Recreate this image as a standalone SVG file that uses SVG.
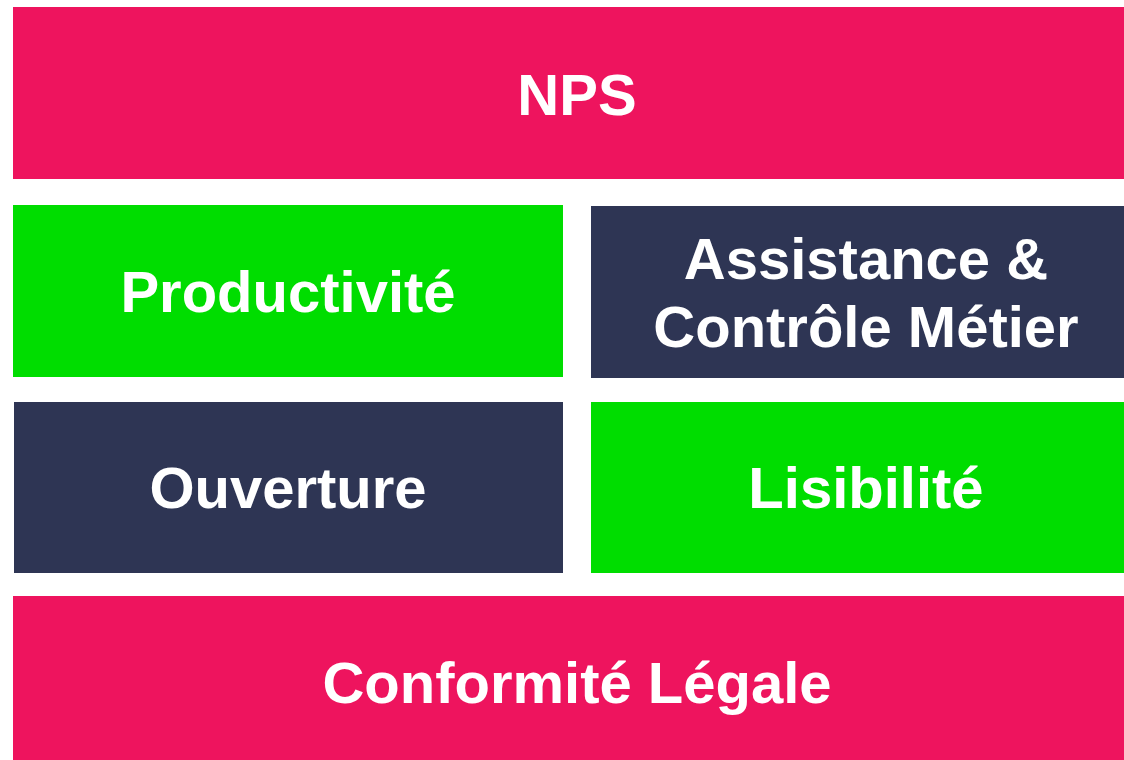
<svg xmlns="http://www.w3.org/2000/svg" width="1124" height="760" viewBox="0 0 1124 760">
<style>
.pink{fill:#EE145E}.green{fill:#00DD00}.dark{fill:#2E3554}
text{font-family:"Liberation Sans",Arial,sans-serif;font-weight:bold;fill:#fff;text-anchor:middle;font-size:58px}
</style>
<rect width="1124" height="760" fill="#fff"/>
<g id="nps"><rect class="pink" x="13" y="7" width="1111" height="172"/><text x="577" y="115">NPS</text></g>
<g id="productivite"><rect class="green" x="13" y="205" width="550" height="172"/><text x="288" y="312">Productivité</text></g>
<g id="assistance"><rect class="dark" x="591" y="206" width="533" height="172"/><text x="866" y="279">Assistance &amp;</text><text x="866" y="347">Contrôle Métier</text></g>
<g id="ouverture"><rect class="dark" x="14" y="402" width="549" height="171"/><text x="288" y="508">Ouverture</text></g>
<g id="lisibilite"><rect class="green" x="591" y="402" width="533" height="171"/><text x="866" y="508">Lisibilité</text></g>
<g id="conformite"><rect class="pink" x="13" y="596" width="1111" height="164"/><text x="577" y="703">Conformité Légale</text></g>
<g id="connectors"/>
</svg>
